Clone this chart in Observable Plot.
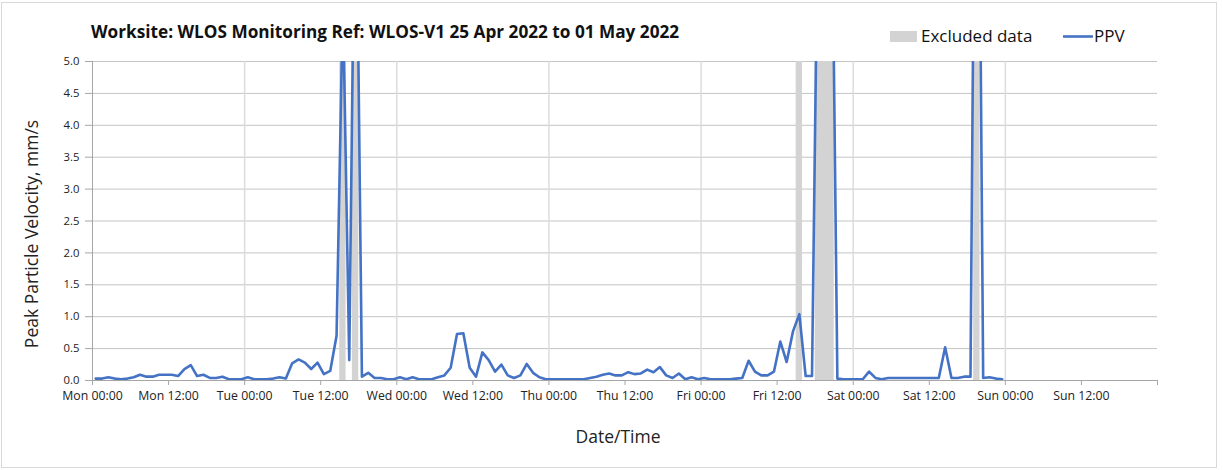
<!DOCTYPE html>
<html><head><meta charset="utf-8">
<script src="https://cdn.jsdelivr.net/npm/d3@7"></script>
<script src="https://cdn.jsdelivr.net/npm/@observablehq/plot@0.6"></script>
<style>
body{margin:0;background:#fff;}
#wrap{position:relative;width:1223px;height:470px;}
</style></head><body><div id="wrap"></div>
<script>
// ---- data (hourly PPV, mm/s, each value stamped at the middle of its hour) ----
const startISO = "2022-04-25T00:00:00Z";
const endISO = "2022-05-02T00:00:00Z";
const ppvMon = [0.03,0.03,0.05,0.03,0.02,0.03,0.05,0.09,0.06,0.06,0.09,0.09,
                0.09,0.07,0.18,0.24,0.07,0.09,0.04,0.04,0.06,0.02,0.02,0.02];
const ppvTue = [0.05,0.02,0.02,0.02,0.03,0.05,0.03,0.27,0.33,0.28,0.18,0.28,
                0.10,0.15,0.70,6.0,0.32,9.0,0.06,0.12,0.04,0.04,0.02,0.02];
const ppvWed = [0.05,0.02,0.05,0.02,0.02,0.02,0.05,0.08,0.20,0.73,0.74,0.20,
                0.06,0.44,0.32,0.14,0.25,0.08,0.04,0.08,0.26,0.12,0.05,0.02];
const ppvThu = [0.02,0.02,0.02,0.02,0.02,0.02,0.04,0.06,0.09,0.11,0.08,0.08,
                0.13,0.10,0.11,0.17,0.13,0.21,0.08,0.04,0.11,0.02,0.05,0.02];
const ppvFri = [0.04,0.02,0.02,0.02,0.02,0.03,0.04,0.31,0.14,0.08,0.08,0.14,
                0.61,0.29,0.77,1.04,0.07,0.07,8.0,12.0,9.0,0.03,0.02,0.02];
const ppvSat = [0.02,0.02,0.14,0.04,0.02,0.04,0.04,0.04,0.04,0.04,0.04,0.04,
                0.04,0.04,0.52,0.04,0.04,0.06,0.06,13.0,0.04,0.05,0.03,0.02];
// excluded periods, hours from start
const excludedFromHour = [39, 41, 111, 114, 139];
const excludedToHour   = [40, 42, 112, 117, 140];
const yTickValues = [0,0.5,1,1.5,2,2.5,3,3.5,4,4.5,5];
const titleText = "Worksite: WLOS Monitoring Ref: WLOS-V1 25 Apr 2022 to 01 May 2022";
const legendLabels = ["Excluded data", "PPV"];
const yTitle = "Peak Particle Velocity, mm/s";
const xTitle = "Date/Time";

// ---- build tables ----
const start = new Date(startISO), end = new Date(endISO);
const HOUR = 3600e3;
const ppvAll = [...ppvMon, ...ppvTue, ...ppvWed, ...ppvThu, ...ppvFri, ...ppvSat];
const series = ppvAll.map((v, i) => ({time: new Date(+start + (i + 0.5) * HOUR), value: v}));
const excluded = excludedFromHour.map((h, i) => ({
  from: new Date(+start + h * HOUR), to: new Date(+start + excludedToHour[i] * HOUR)}));
const xTicks = d3.utcHour.every(12).range(start, new Date(+end + 1));
const dayGrid = d3.utcDay.range(new Date(+start + 1), end);
const fmt = d3.utcFormat("%a %H:%M");

const FONT = "'Open Sans', Lato, sans-serif";
const BLUE = "#4472C4", GREY = "#d3d3d3", AXIS = "#a6a6a6";

const chart = Plot.plot({
  width: 1223, height: 470,
  marginLeft: 92, marginRight: 66, marginTop: 61, marginBottom: 90,
  style: {fontFamily: FONT, background: "white", color: "black"},
  x: {type: "utc", domain: [start, end]},
  y: {domain: [0, 5]},
  marks: [
    Plot.gridY(yTickValues, {stroke: "#c4c4c4", strokeOpacity: 1}),
    Plot.gridX(dayGrid, {stroke: "#dcdcdc", strokeOpacity: 1, strokeWidth: 1.5}),
    Plot.rect(excluded, {x1: "from", x2: "to", y1: 0, y2: 5, fill: GREY}),
    Plot.ruleY([0], {stroke: AXIS}),
    Plot.ruleX([start], {stroke: AXIS}),
    Plot.axisX({ticks: xTicks, tickFormat: d => (+d === +end ? "" : fmt(d)), tickSize: 5,
      tickPadding: 6, fontSize: 12.3, stroke: AXIS, fill: "#222", label: null}),
    Plot.axisY({ticks: yTickValues, tickFormat: d3.format(".1f"), tickSize: 7, tickPadding: 6,
      fontSize: 11.3, stroke: AXIS, fill: "#222", label: null}),
    Plot.lineY(series, {x: "time", y: "value", stroke: BLUE, strokeWidth: 2.6, clip: true})
  ]
});

const svg = d3.select(chart);
svg.insert("rect", ":first-child").attr("x", 1.5).attr("y", 2.5).attr("width", 1215).attr("height", 465)
  .attr("fill", "white").attr("stroke", "#d9d9d9");
const g = svg.append("g").attr("text-anchor", "start").attr("font-family", FONT).attr("fill", "#111");
g.append("text").attr("x", 91).attr("y", 38).attr("font-size", 17.2).attr("font-weight", "bold")
  .text(titleText);
g.append("rect").attr("x", 890).attr("y", 31).attr("width", 27).attr("height", 11).attr("fill", GREY);
g.append("text").attr("x", 921).attr("y", 42).attr("font-size", 17).text(legendLabels[0]);
g.append("line").attr("x1", 1063).attr("x2", 1093).attr("y1", 36.5).attr("y2", 36.5)
  .attr("stroke", BLUE).attr("stroke-width", 2.6);
g.append("text").attr("x", 1094).attr("y", 42).attr("font-size", 17).text(legendLabels[1]);
g.append("text").attr("transform", "translate(38,234) rotate(-90)").attr("text-anchor", "middle")
  .attr("font-size", 17.5).attr("fill", "#222").text(yTitle);
g.append("text").attr("x", 618).attr("y", 443).attr("text-anchor", "middle")
  .attr("font-size", 17.5).attr("fill", "#222").text(xTitle);

document.getElementById("wrap").appendChild(chart);
</script></body></html>
